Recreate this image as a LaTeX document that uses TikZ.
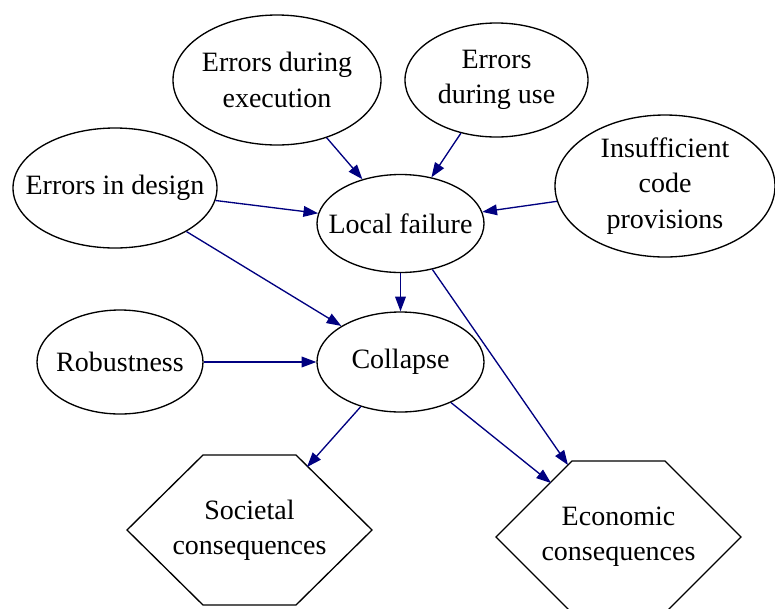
\documentclass[tikz,border=0pt]{standalone}
\usepackage{fontspec}
\setmainfont{Liberation Serif}
\usetikzlibrary{shapes.geometric,arrows.meta}
\definecolor{edgeblue}{RGB}{0,0,128}
\tikzset{
  ell/.style={draw, ellipse, line width=1pt, inner sep=0pt},
  lbl/.style={inner sep=0pt, align=center, font=\fontsize{21}{26.5}\selectfont},
  hexline/.style={line width=1pt, line join=miter},
  conn/.style={draw=edgeblue, line width=1pt, -{Triangle[length=11pt,width=8pt,fill=edgeblue]}},
}
\begin{document}
\begin{tikzpicture}[x=0.75pt,y=-0.75pt]
\useasboundingbox (0,0) rectangle (775,608);
\node[ell, minimum width=208*0.75pt, minimum height=130*0.75pt,
  label={[lbl]center:{Errors during\\execution}}] (exec) at (277,80) {};
\node[ell, minimum width=183*0.75pt, minimum height=114*0.75pt,
  label={[lbl]center:{Errors\\during use}}] (use) at (496.5,80) {};
\node[ell, minimum width=204*0.75pt, minimum height=120*0.75pt,
  label={[lbl]center:{Errors in design}}] (design) at (115,188) {};
\node[ell, minimum width=167*0.75pt, minimum height=98*0.75pt,
  label={[lbl]center:{Local failure}}] (local) at (400.5,223.5) {};
\node[ell, minimum width=220*0.75pt, minimum height=142*0.75pt,
  label={[lbl]center:{Insufficient\\code\\provisions}}] (insuf) at (665,186) {};
\node[ell, minimum width=166*0.75pt, minimum height=104*0.75pt,
  label={[lbl]center:{Robustness}}] (robust) at (120,362) {};
\node[ell, minimum width=167*0.75pt, minimum height=100*0.75pt,
  label={[lbl]center:{Collapse}}] (collapse) at (400.5,362) {};
% hexagons
\draw[hexline] (203,455) -- (296,455) -- (372,530) -- (296,605) -- (203,605) -- (127,530) -- cycle;
\node[lbl] (soc) at (249.5,530) {Societal\\consequences};
\draw[hexline] (572,461) -- (665,461) -- (741,537) -- (665,613) -- (572,613) -- (496,537) -- cycle;
\node[lbl] (eco) at (618.5,537) {Economic\\consequences};
\coordinate (socIn) at (307,467);
\coordinate (ecoInA) at (551,483);
\coordinate (ecoInB) at (568,465);
% connectors
\draw[conn] (exec) -- (local);
\draw[conn] (use) -- (local);
\draw[conn] (design) -- (local);
\draw[conn] (insuf) -- (local);
\draw[conn] (design) -- (collapse);
\draw[conn] (local) -- (collapse);
\draw[conn] (robust) -- (collapse);
\draw[conn] (local) -- (ecoInB);
\draw[conn] (collapse) -- (socIn);
\draw[conn] (collapse) -- (ecoInA);
\end{tikzpicture}
\end{document}
